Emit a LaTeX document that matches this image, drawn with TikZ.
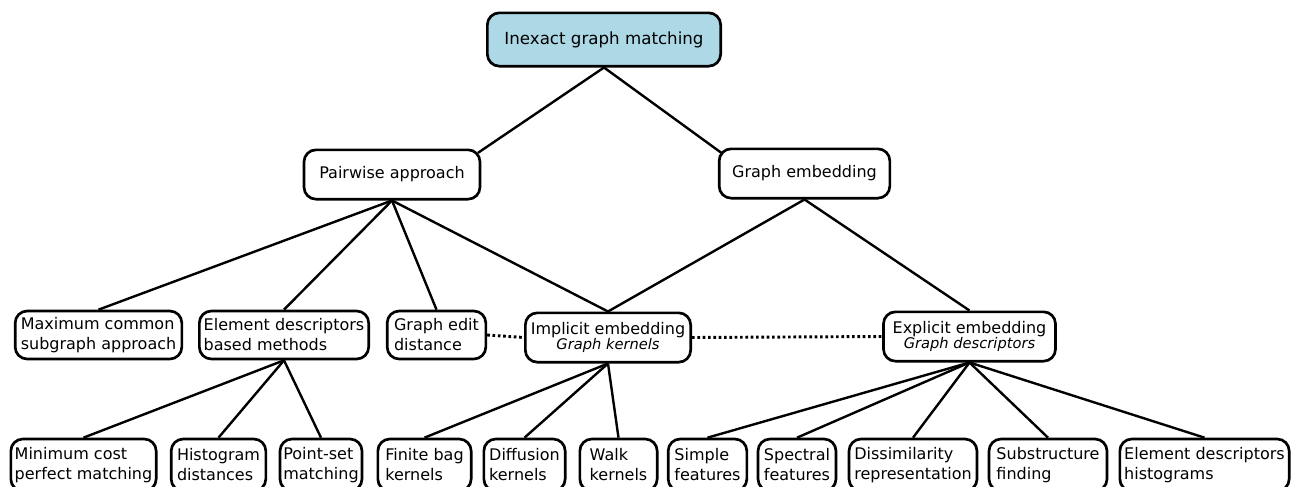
\documentclass[tikz,border=0pt]{standalone}
\usepackage{fontspec}
\setmainfont{DejaVu Sans}
\definecolor{rootblue}{RGB}{173,216,230}
\usetikzlibrary{positioning}

\begin{document}
\begin{tikzpicture}[x=0.75pt, y=-0.75pt,
    box/.style={draw, line width=2pt, rounded corners=9pt, align=left,
                inner sep=2pt, font=\fontsize{12}{15}\selectfont},
    link/.style={line width=1.8pt},
    dots/.style={line width=2.2pt, dash pattern=on 2pt off 2pt}]
    % Frame
    \clip (0,0) rectangle (1292,486);

    % Top levels
    \node[box, fill=rootblue, minimum width=175pt, minimum height=40pt,
          font=\fontsize{12.5}{15}\selectfont] (root) at (604,39.5) {Inexact graph matching};
    \node[box, align=center, minimum width=132pt, minimum height=37pt] (pair) at (392,174.5) {Pairwise approach};
    \node[box, align=center, minimum width=128pt, minimum height=37pt] (gemb) at (804.5,173.5) {Graph embedding};

    % Middle level
    \node[box, minimum width=125pt, minimum height=36pt] (maxc) at (98.5,335) {Maximum common\\subgraph approach};
    \node[box, minimum width=127pt, minimum height=36pt] (elem) at (284,335) {Element descriptors\\based methods};
    \node[box, minimum width=74pt, minimum height=36pt] (ged) at (436.5,335) {Graph edit\\distance};
    \node[box, align=center, minimum width=124pt, minimum height=37pt] (impl) at (608,337.5)
        {Implicit embedding\\[-3.5pt]{\fontsize{11}{13}\selectfont\itshape Graph kernels}};
    \node[box, align=center, minimum width=129pt, minimum height=37pt] (expl) at (969.5,336.5)
        {Explicit embedding\\[-3.5pt]{\fontsize{11}{13}\selectfont\itshape Graph descriptors}};

    % Bottom level
    \node[box, minimum width=109pt, minimum height=39pt] (minc) at (83.5,465) {Minimum cost\\perfect matching};
    \node[box, minimum width=71pt, minimum height=39pt] (hist) at (218.5,465) {Histogram\\distances};
    \node[box, minimum width=61.5pt, minimum height=39pt] (pset) at (321,465) {Point-set\\matching};
    \node[box, minimum width=70pt, minimum height=39pt] (fbag) at (424.5,465) {Finite bag\\kernels};
    \node[box, minimum width=61pt, minimum height=39pt] (diff) at (524.5,465) {Diffusion\\kernels};
    \node[box, minimum width=58pt, minimum height=39pt] (walk) at (618.5,465) {Walk\\kernels};
    \node[box, minimum width=59pt, minimum height=39pt] (simp) at (707.5,465) {Simple\\features};
    \node[box, minimum width=58.5pt, minimum height=39pt] (spec) at (797,465) {Spectral\\features};
    \node[box, minimum width=96pt, minimum height=39pt] (diss) at (913,465) {Dissimilarity\\representation};
    \node[box, minimum width=88.5pt, minimum height=39pt] (subs) at (1048,465) {Substructure\\finding};
    \node[box, minimum width=127pt, minimum height=39pt] (ehist) at (1204.5,465) {Element descriptors\\histograms};

    % Tree links
    \draw[link, shorten >=-3pt] (root.south) -- (pair.15);
    \draw[link, shorten >=-3pt] (root.south) -- (gemb.165);
    \foreach \c in {maxc, elem, ged, impl}
        \draw[link] (pair.south) -- (\c.north);
    \foreach \c in {impl, expl}
        \draw[link] (gemb.south) -- (\c.north);
    \foreach \c in {minc, hist, pset}
        \draw[link] (elem.south) -- (\c.north);
    \foreach \c in {fbag, diff, walk}
        \draw[link] (impl.south) -- (\c.north);
    \foreach \c in {simp, spec, diss, subs, ehist}
        \draw[link] (expl.south) -- (\c.north);

    % Dotted relations
    \draw[dots] (ged.east) -- (impl.west);
    \draw[dots] (impl.east) -- (expl.west);
\end{tikzpicture}
\end{document}
